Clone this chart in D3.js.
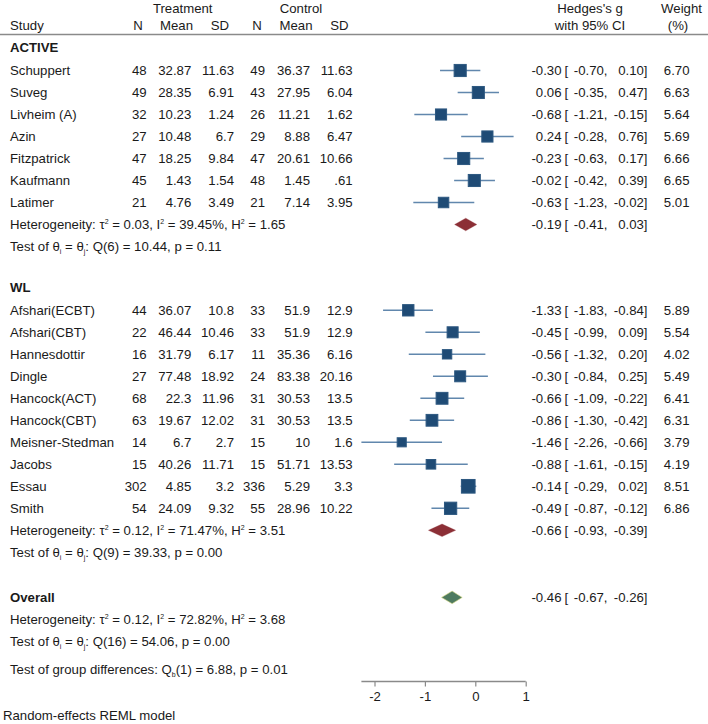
<!DOCTYPE html>
<html><head><meta charset="utf-8">
<script src="https://cdn.jsdelivr.net/npm/d3@7"></script>
<style>
body{margin:0;background:#fff;}
svg text{font-family:"Liberation Sans",Arial,sans-serif;font-size:13.2px;fill:#1a1a1a;}
</style></head><body>
<svg id="chart" width="708" height="724"></svg>
<script>
// ---- data ----
const activeStudies = ["Schuppert","Suveg","Livheim (A)","Azin","Fitzpatrick","Kaufmann","Latimer"];
const activeTreatN = [48,49,32,27,47,45,21];
const activeTreatMean = [32.87,28.35,10.23,10.48,18.25,1.43,4.76];
const activeTreatSD = [11.63,6.91,1.24,6.7,9.84,1.54,3.49];
const activeCtrlN = [49,43,26,29,47,48,21];
const activeCtrlMean = [36.37,27.95,11.21,8.88,20.61,1.45,7.14];
const activeCtrlSD = [11.63,6.04,1.62,6.47,10.66,0.61,3.95];
const activeG = [-0.30,0.06,-0.68,0.24,-0.23,-0.02,-0.63];
const activeLo = [-0.70,-0.35,-1.21,-0.28,-0.63,-0.42,-1.23];
const activeHi = [0.10,0.47,-0.15,0.76,0.17,0.39,-0.02];
const activeW = [6.70,6.63,5.64,5.69,6.66,6.65,5.01];

const wlStudies = ["Afshari(ECBT)","Afshari(CBT)","Hannesdottir","Dingle","Hancock(ACT)","Hancock(CBT)","Meisner-Stedman","Jacobs","Essau","Smith"];
const wlTreatN = [44,22,16,27,68,63,14,15,302,54];
const wlTreatMean = [36.07,46.44,31.79,77.48,22.3,19.67,6.7,40.26,4.85,24.09];
const wlTreatSD = [10.8,10.46,6.17,18.92,11.96,12.02,2.7,11.71,3.2,9.32];
const wlCtrlN = [33,33,11,24,31,31,15,15,336,55];
const wlCtrlMean = [51.9,51.9,35.36,83.38,30.53,30.53,10,51.71,5.29,28.96];
const wlCtrlSD = [12.9,12.9,6.16,20.16,13.5,13.5,1.6,13.53,3.3,10.22];
const wlG = [-1.33,-0.45,-0.56,-0.30,-0.66,-0.86,-1.46,-0.88,-0.14,-0.49];
const wlLo = [-1.83,-0.99,-1.32,-0.84,-1.09,-1.30,-2.26,-1.61,-0.29,-0.87];
const wlHi = [-0.84,0.09,0.20,0.25,-0.22,-0.42,-0.66,-0.15,0.02,-0.12];
const wlW = [5.89,5.54,4.02,5.49,6.41,6.31,3.79,4.19,8.51,6.86];

// pooled: [estimate, lo, hi]
const activePooled = [-0.19,-0.41,0.03];
const wlPooled = [-0.66,-0.93,-0.39];
const overallPooled = [-0.46,-0.67,-0.26];
// heterogeneity: tau2, I2, H2, df, Q, p
const activeHet = [0.03,39.45,1.65,6,10.44,0.11];
const wlHet = [0.12,71.47,3.51,9,39.33,0.00];
const overallHet = [0.12,72.82,3.68,16,54.06,0.00];
const groupDiff = [1,6.88,0.01];
const xTicks = [-2,-1,0,1];

// ---- layout ----
const svg = d3.select("#chart");
const x = d3.scaleLinear().domain([-2,1]).range([374.5,525.7]);
const row = d3.scaleLinear().domain([0,1]).range([70.5,92.5]);
const size = d3.scaleSqrt().domain([0,10]).range([0,14.8]);
const f2raw = d3.format(".2f");
const f2 = v => f2raw(v).replace("\u2212","-");
const stataFmt = v => String(v).replace(/^0\./,".");

const sqFill = "#1f4b75", ciCol = "#6187ad", redCol = "#8c2f36", greenCol = "#4f7b60";

function txt(xp, yp, s, anchor, weight){
  return svg.append("text").attr("x",xp).attr("y",yp).attr("dy","0.35em")
    .attr("text-anchor",anchor||"start").attr("font-weight",weight||null).text(s);
}

// header
txt(182.7,8.5,"Treatment","middle");
txt(301,8.5,"Control","middle");
txt(10,25.5,"Study");
[["N",138],["Mean",176.5],["SD",220],["N",257],["Mean",296],["SD",339.3]].forEach(d=>txt(d[1],25.5,d[0],"middle"));
txt(590,8.5,"Hedges's g","middle");
txt(590,25.5,"with 95% CI","middle");
txt(681.5,8.5,"Weight","middle");
txt(678,25.5,"(%)","middle");
svg.append("line").attr("x1",0).attr("x2",708).attr("y1",34.5).attr("y2",34.5)
  .attr("stroke","#8a8a8a").attr("stroke-width",1.6);

function ciText(yp, g, lo, hi){
  txt(561.5,yp,f2(g),"end");
  txt(564.5,yp,"[");
  txt(607.5,yp,f2(lo)+",","end");
  txt(647.5,yp,f2(hi)+"]","end");
}

function drawGroup(startRow, name, studies, tN, tM, tS, cN, cM, cS, G, Lo, Hi, W, pooled, het){
  txt(10,row(startRow-1)-1,name,"start","bold");
  studies.forEach((s,i)=>{
    const yp = row(startRow+i);
    txt(10,yp,s);
    txt(146.7,yp,stataFmt(tN[i]),"end");
    txt(191.3,yp,stataFmt(tM[i]),"end");
    txt(234,yp,stataFmt(tS[i]),"end");
    txt(265,yp,stataFmt(cN[i]),"end");
    txt(310,yp,stataFmt(cM[i]),"end");
    txt(352.7,yp,stataFmt(cS[i]),"end");
    svg.append("line").attr("x1",x(Lo[i])).attr("x2",x(Hi[i])).attr("y1",yp).attr("y2",yp)
      .attr("stroke",ciCol).attr("stroke-width",1.5);
    const sd = size(W[i]);
    svg.append("rect").attr("x",x(G[i])-sd/2).attr("y",yp-sd/2).attr("width",sd).attr("height",sd)
      .attr("fill",sqFill).attr("stroke","#2d5880").attr("stroke-width",1);
    ciText(yp,G[i],Lo[i],Hi[i]);
    txt(689.5,yp,f2(W[i]),"end");
  });
  const hr = startRow+studies.length;
  hetLines(row(hr),row(hr+1),het);
  diamond(row(hr),pooled,redCol,null);
  ciText(row(hr),pooled[0],pooled[1],pooled[2]);
}

function hetLines(y1,y2,het){
  const t = svg.append("text").attr("x",10).attr("y",y1).attr("dy","0.35em");
  t.append("tspan").text("Heterogeneity: τ");
  t.append("tspan").attr("font-size","7px").attr("dy","-5").text("2");
  t.append("tspan").attr("dy","5").text(" = "+f2(het[0])+", I");
  t.append("tspan").attr("font-size","7px").attr("dy","-5").text("2");
  t.append("tspan").attr("dy","5").text(" = "+f2(het[1])+"%, H");
  t.append("tspan").attr("font-size","7px").attr("dy","-5").text("2");
  t.append("tspan").attr("dy","5").text(" = "+f2(het[2]));
  const u = svg.append("text").attr("x",10).attr("y",y2).attr("dy","0.35em");
  u.append("tspan").text("Test of θ");
  u.append("tspan").attr("font-size","7px").attr("dy","3").text("i");
  u.append("tspan").attr("dy","-3").text(" = θ");
  u.append("tspan").attr("font-size","7px").attr("dy","3").text("j");
  u.append("tspan").attr("dy","-3").text(": Q("+het[3]+") = "+f2(het[4])+", p = "+f2(het[5]));
}

function diamond(yp,p,col,edge){
  const h = 6.3;
  const pts = [[x(p[1]),yp],[x(p[0]),yp-h],[x(p[2]),yp],[x(p[0]),yp+h]];
  svg.append("polygon").attr("points",pts.map(d=>d.join(",")).join(" "))
    .attr("fill",col).attr("stroke",edge||col).attr("stroke-width",edge?0.6:0.3);
}

drawGroup(0,"ACTIVE",activeStudies,activeTreatN,activeTreatMean,activeTreatSD,activeCtrlN,activeCtrlMean,activeCtrlSD,activeG,activeLo,activeHi,activeW,activePooled,activeHet);
drawGroup(10.9,"WL",wlStudies,wlTreatN,wlTreatMean,wlTreatSD,wlCtrlN,wlCtrlMean,wlCtrlSD,wlG,wlLo,wlHi,wlW,wlPooled,wlHet);

// overall
const oy = row(23.95);
txt(10,oy,"Overall","start","bold");
diamond(oy,overallPooled,greenCol,"#dede8a");
ciText(oy,overallPooled[0],overallPooled[1],overallPooled[2]);
hetLines(row(24.95),row(25.95),overallHet);
const g2 = svg.append("text").attr("x",10).attr("y",row(27.2)).attr("dy","0.35em");
g2.append("tspan").text("Test of group differences: Q");
g2.append("tspan").attr("font-size","7px").attr("dy","3").text("b");
g2.append("tspan").attr("dy","-3").text("("+groupDiff[0]+") = "+f2(groupDiff[1])+", p = "+f2(groupDiff[2]));

// axis
const axisY = 681.5;
const ax = svg.append("g").attr("transform",`translate(0,${axisY})`);
ax.append("line").attr("x1",x(-2.26)).attr("x2",x(1)).attr("stroke","#8a8a8a").attr("stroke-width",1.3);
const ag = ax.append("g").call(d3.axisBottom(x).tickValues(xTicks).tickSize(5).tickFormat(d3.format("d")));
ag.select(".domain").remove();
ag.selectAll(".tick line").attr("stroke","#8a8a8a").attr("stroke-width",1.2);
ag.selectAll(".tick text").attr("font-size","13.2px").attr("fill","#1a1a1a").attr("font-family","Liberation Sans, Arial, sans-serif").attr("dy","0.9em").text(d=>d<0?"-"+Math.abs(d):d);

txt(3,715,"Random-effects REML model");
</script></body></html>
